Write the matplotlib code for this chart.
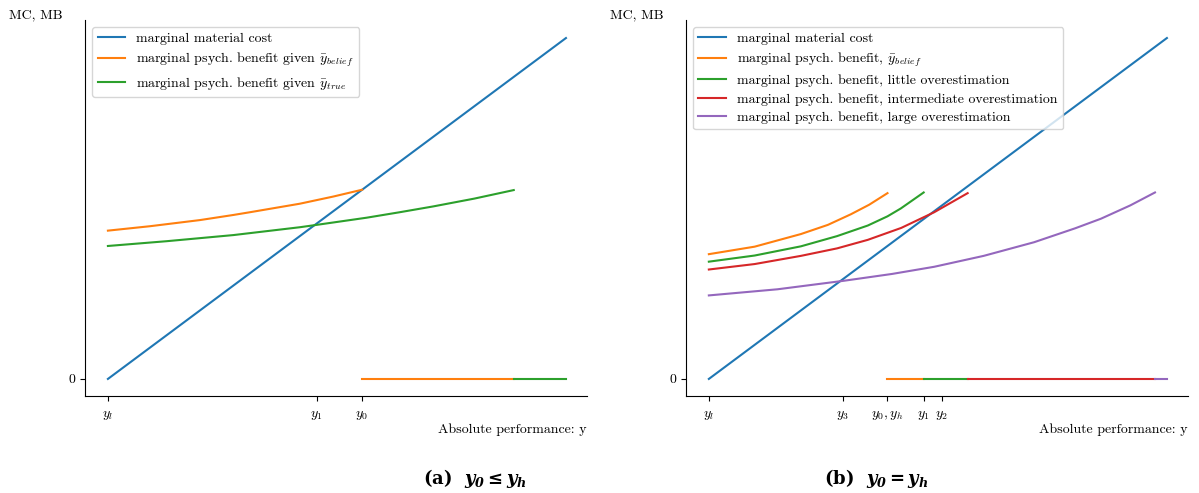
import matplotlib
matplotlib.use('Agg')
import matplotlib.pyplot as plt

plt.rcParams['font.family'] = ['cmr10', 'DejaVu Serif']
plt.rcParams['mathtext.fontset'] = 'cm'
plt.rcParams['axes.formatter.use_mathtext'] = True
plt.rcParams['font.size'] = 10

# material cost line (both panels)
cost_x = [0, 10]
cost_y = [0, 10]

# panel (a) values
a_belief_x = [0, 0.92, 2.01, 2.74, 3.10, 4.19, 4.92, 5.55]
a_belief_y = [4.35, 4.48, 4.66, 4.81, 4.89, 5.14, 5.35, 5.55]
a_true_x = [0, 1.28, 2.74, 4.19, 4.56, 5.65, 6.37, 7.10, 8.0, 8.86]
a_true_y = [3.90, 4.04, 4.22, 4.45, 4.52, 4.73, 4.89, 5.06, 5.29, 5.54]
a_ticks = [0, 4.56, 5.55]
a_ticklabels = ['$y_l$', '$y_1$', '$y_0$']

# panel (b)
b_belief_x = [0, 1.0, 2.01, 2.6, 3.10, 3.50, 3.90]
b_belief_y = [3.66, 3.88, 4.25, 4.52, 4.83, 5.11, 5.45]
b_little_x = [0, 1.0, 2.01, 2.8, 3.47, 3.9, 4.19, 4.69]
b_little_y = [3.44, 3.62, 3.89, 4.19, 4.50, 4.77, 5.00, 5.47]
b_mid_x = [0, 1.0, 2.01, 2.8, 3.47, 4.2, 4.92, 5.65]
b_mid_y = [3.21, 3.37, 3.61, 3.83, 4.08, 4.43, 4.89, 5.45]
b_large_x = [0, 1.5, 2.95, 4.0, 4.92, 6.0, 7.10, 8.0, 8.56, 9.2, 9.74]
b_large_y = [2.45, 2.63, 2.88, 3.08, 3.29, 3.61, 4.01, 4.42, 4.70, 5.09, 5.47]
b_ticks = [0, 2.93, 3.90, 4.69, 5.09]
b_ticklabels = ['$y_l$', '$y_3$', '$y_0, y_h$', '$y_1$', '$y_2$']

C = ['tab:blue', 'tab:orange', 'tab:green', 'tab:red', 'tab:purple']

fig = plt.figure(figsize=(11.99, 4.93), dpi=100)
ax1 = fig.add_axes([0.0709, 0.1968, 0.4187, 0.7627])
ax2 = fig.add_axes([0.5721, 0.1968, 0.4187, 0.7627])

# (a)
ax1.plot(cost_x, cost_y, color=C[0], label='marginal material cost')
ax1.plot(a_belief_x, a_belief_y, color=C[1], label=r'marginal psych. benefit given $\bar{y}_{belief}$')
ax1.plot(a_true_x, a_true_y, color=C[2], label=r'marginal psych. benefit given $\bar{y}_{true}$')
ax1.plot([a_belief_x[-1], a_true_x[-1]], [0, 0], color=C[1])
ax1.plot([a_true_x[-1], cost_x[-1]], [0, 0], color=C[2])
ax1.set_xticks(a_ticks)
ax1.set_xticklabels(a_ticklabels)

# (b)
ax2.plot(cost_x, cost_y, color=C[0], label='marginal material cost')
ax2.plot(b_belief_x, b_belief_y, color=C[1], label=r'marginal psych. benefit, $\bar{y}_{belief}$')
ax2.plot(b_little_x, b_little_y, color=C[2], label='marginal psych. benefit, little overestimation')
ax2.plot(b_mid_x, b_mid_y, color=C[3], label='marginal psych. benefit, intermediate overestimation')
ax2.plot(b_large_x, b_large_y, color=C[4], label='marginal psych. benefit, large overestimation')
ax2.plot([b_belief_x[-1], b_little_x[-1]], [0, 0], color=C[1])
ax2.plot([b_little_x[-1], b_mid_x[-1]], [0, 0], color=C[2])
ax2.plot([b_mid_x[-1], b_large_x[-1]], [0, 0], color=C[3])
ax2.plot([b_large_x[-1], cost_x[-1]], [0, 0], color=C[4])
ax2.set_xticks(b_ticks)
ax2.set_xticklabels(b_ticklabels)

for ax in (ax1, ax2):
    ax.set_xlim(-0.5, 10.46)
    ax.set_ylim(-0.5, 10.53)
    ax.set_yticks([0])
    ax.set_yticklabels(['0'])
    ax.spines['top'].set_visible(False)
    ax.spines['right'].set_visible(False)
    ax.tick_params(axis='x', pad=6)
    ax.set_xlabel('Absolute performance: y', loc='right', labelpad=1)
    ax.text(-0.045, 1.012, 'MC, MB', transform=ax.transAxes, ha='right', va='center')
    ax.legend(loc='upper left', labelspacing=0.4)

fig.text(0.396, 0.018, r'(a)  $\mathbfit{y_0 \leq y_h}$', fontsize=13, fontweight='bold',
         ha='center', family='DejaVu Serif', math_fontfamily='dejavuserif')
fig.text(0.731, 0.018, r'(b)  $\mathbfit{y_0 = y_h}$', fontsize=13, fontweight='bold',
         ha='center', family='DejaVu Serif', math_fontfamily='dejavuserif')

plt.savefig('out.png', dpi=100)
